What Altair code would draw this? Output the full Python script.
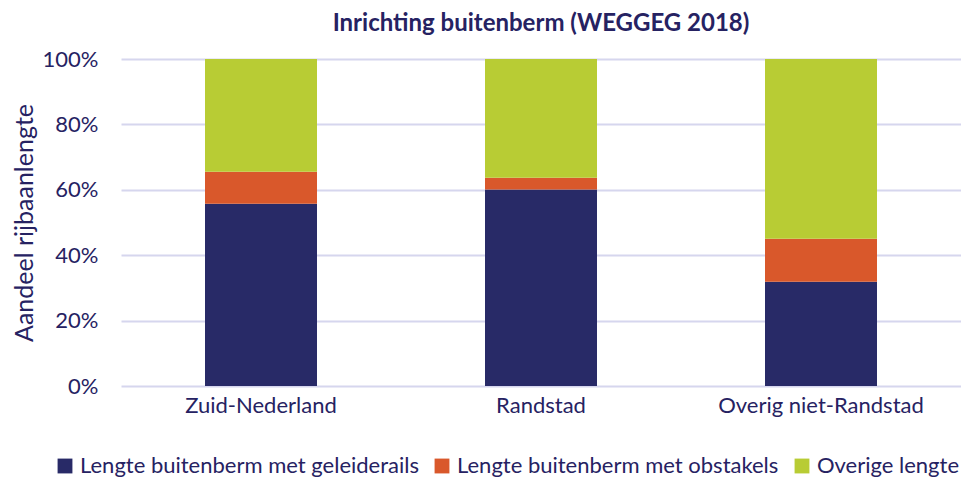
import altair as alt
import pandas as pd

regions = ["Zuid-Nederland", "Randstad", "Overig niet-Randstad"]
series = ["Lengte buitenberm met geleiderails", "Lengte buitenberm met obstakels", "Overige lengte"]
geleiderails = [55.7, 60.1, 31.9]
obstakels = [9.8, 3.6, 13.1]
overige = [34.5, 36.3, 55.0]
colors = ["#282a67", "#d9582b", "#b8cc34"]

rows = []
for i, r in enumerate(regions):
    for j, (s, vals) in enumerate(zip(series, [geleiderails, obstakels, overige])):
        rows.append({"regio": r, "reeks": s, "waarde": vals[i] / 100.0, "volgorde": j})
df = pd.DataFrame(rows)

FONT = "Lato"
TXT = "#262262"

chart = alt.Chart(df).mark_bar().encode(
    x=alt.X("regio:N", sort=regions, title=None,
            scale=alt.Scale(paddingInner=0.6, paddingOuter=0.3),
            axis=alt.Axis(labelAngle=0, labelFontSize=22, labelColor=TXT, labelFont=FONT,
                          labelLimit=0, ticks=False, domain=False, labelPadding=9)),
    y=alt.Y("waarde:Q", stack="zero", title="Aandeel rijbaanlengte",
            scale=alt.Scale(domain=[0, 1]),
            axis=alt.Axis(format=".0%", values=[0, 0.2, 0.4, 0.6, 0.8, 1.0],
                          labelFontSize=22, labelColor=TXT, labelFont=FONT,
                          titleFontSize=25, titleColor=TXT, titleFont=FONT, titleFontWeight="normal",
                          titlePadding=5, ticks=False, domain=False, labelPadding=23,
                          gridColor="#d6d6ee", gridWidth=2)),
    color=alt.Color("reeks:N", sort=series, title=None,
                    scale=alt.Scale(domain=series, range=colors),
                    legend=alt.Legend(orient="none", direction="horizontal", legendX=-67, legendY=396,
                                      symbolType="square", symbolSize=220, symbolStrokeWidth=0,
                                      labelFontSize=22, labelColor=TXT, labelFont=FONT, labelLimit=0,
                                      columnPadding=12, labelOffset=4)),
    order=alt.Order("volgorde:Q", sort="ascending"),
).properties(
    width=840, height=327,
    title=alt.TitleParams("Inrichting buitenberm (WEGGEG 2018)", fontSize=24, font=FONT,
                          fontWeight="bold", color=TXT, anchor="middle", offset=12),
    autosize=alt.AutoSizeParams(type="none"),
    padding={"left": 113, "top": 51, "right": 0, "bottom": 96},
).configure_view(stroke=None)

chart.save("out.html", embed_options={"renderer": "svg", "actions": False})
